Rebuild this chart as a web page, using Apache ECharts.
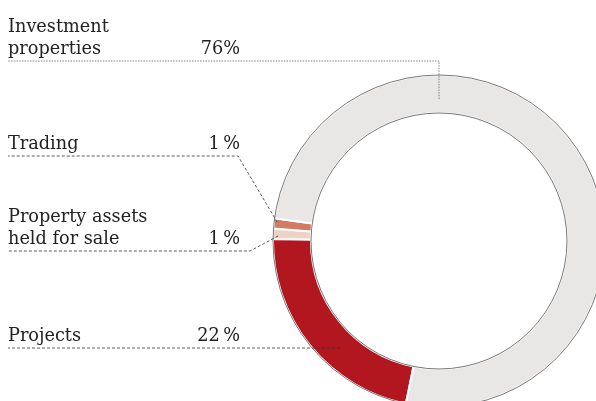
<!DOCTYPE html>
<html>
<head>
<meta charset="utf-8">
<script src="https://cdn.jsdelivr.net/npm/echarts@6/dist/echarts.min.js"></script>
<style>
  html, body { margin: 0; padding: 0; background: #fff; }
  #cnv { width: 596px; height: 401px; }
</style>
</head>
<body>
<div id="cnv"></div>
<script>
// segment data, clockwise from the bottom
var names = ["Projects", "Property assets\nheld for sale", "Trading", "Investment\nproperties"];
var values = [22, 1, 1, 76];
var pctLabels = ["22\u2009%", "1\u2009%", "1\u2009%", "76%"];
var colors = ["#b2161f", "#efd2c6", "#cf7c63", "#e8e7e5"];

var cx = 439, cy = 241, r0 = 128, r1 = 166;

// where each label sits (y of its dashed rule) and where the leader meets the ring
var ruleY = [348, 251, 156, 61];
function ringPoint(angle, r) {
    var a = angle * Math.PI / 180;
    return [cx + r * Math.cos(a), cy - r * Math.sin(a)];
}
var leaders = [
    function () { return [[340, ruleY[0]], [340, ruleY[0]], [8, ruleY[0]]]; },
    function () { var p = ringPoint(178.2, 161); return [p, [250, ruleY[1]], [8, ruleY[1]]]; },
    function () { var p = ringPoint(173.3, 163); return [p, [238, ruleY[2]], [8, ruleY[2]]]; },
    function () { var p = ringPoint(90, 142); return [p, [p[0], ruleY[3]], [8, ruleY[3]]]; }
];

function labelText(i) {
    var lines = names[i].split("\n");
    var out = [];
    for (var k = 0; k < lines.length - 1; k++) out.push("{n0|" + lines[k] + "}");
    out.push("{n|" + lines[lines.length - 1] + "}{p|" + pctLabels[i] + "}");
    return out.join("\n");
}

var font = { fontFamily: "DejaVu Serif", fontSize: 17.7, color: "#222", lineHeight: 22 };

var base = values.map(function (v, i) {
    return { name: names[i], value: v, itemStyle: { color: colors[i] } };
});
var labelled = values.map(function (v, i) {
    return {
        name: names[i],
        value: v,
        labelLine: {
            lineStyle: i === 3 ? { type: [1.5, 1.2], color: "#666" } : { type: [3, 2], color: "#333" }
        }
    };
});

function outline(r) {
    return {
        type: "pie",
        center: [cx, cy],
        radius: [0, r],
        silent: true,
        z: 3,
        label: { show: false },
        labelLine: { show: false },
        itemStyle: { color: "rgba(0,0,0,0)", borderColor: "#555", borderWidth: 0.8 },
        data: [{ value: 1 }]
    };
}

var main = document.getElementById("cnv");
var myechart = echarts.init(main, null, { renderer: "canvas" });
var option = {
    animation: false,
    series: [
        {
            type: "pie",
            center: [cx, cy],
            radius: [r0, r1],
            startAngle: 258.5,
            clockwise: true,
            silent: true,
            itemStyle: { borderColor: "#fff", borderWidth: 2 },
            label: { show: false },
            labelLine: { show: false },
            data: base
        },
        outline(r1),
        outline(r0),
        {
            // transparent copy that carries the labels and leader lines above the ring
            type: "pie",
            center: [cx, cy],
            radius: [r0, r1],
            startAngle: 258.5,
            clockwise: true,
            avoidLabelOverlap: false,
            silent: true,
            z: 4,
            itemStyle: { color: "rgba(0,0,0,0)", borderWidth: 0 },
            label: {
                show: true,
                position: "outside",
                formatter: function (p) { return labelText(p.dataIndex); },
                fontFamily: font.fontFamily,
                fontSize: font.fontSize,
                color: font.color,
                lineHeight: font.lineHeight,
                rich: {
                    n0: { fontFamily: font.fontFamily, fontSize: font.fontSize, color: font.color, lineHeight: font.lineHeight },
                    n: { fontFamily: font.fontFamily, fontSize: font.fontSize, color: font.color, lineHeight: font.lineHeight, width: 185, align: "left" },
                    p: { fontFamily: font.fontFamily, fontSize: font.fontSize, color: font.color, lineHeight: font.lineHeight, width: 47, align: "right" }
                }
            },
            labelLine: { show: true, lineStyle: { width: 0.8 } },
            labelLayout: function (params) {
                var i = params.dataIndex;
                return {
                    x: 8,
                    y: ruleY[i] - 1,
                    align: "left",
                    verticalAlign: "bottom",
                    labelLinePoints: leaders[i]()
                };
            },
            data: labelled
        }
    ]
};
myechart.setOption(option);
</script>
</body>
</html>
